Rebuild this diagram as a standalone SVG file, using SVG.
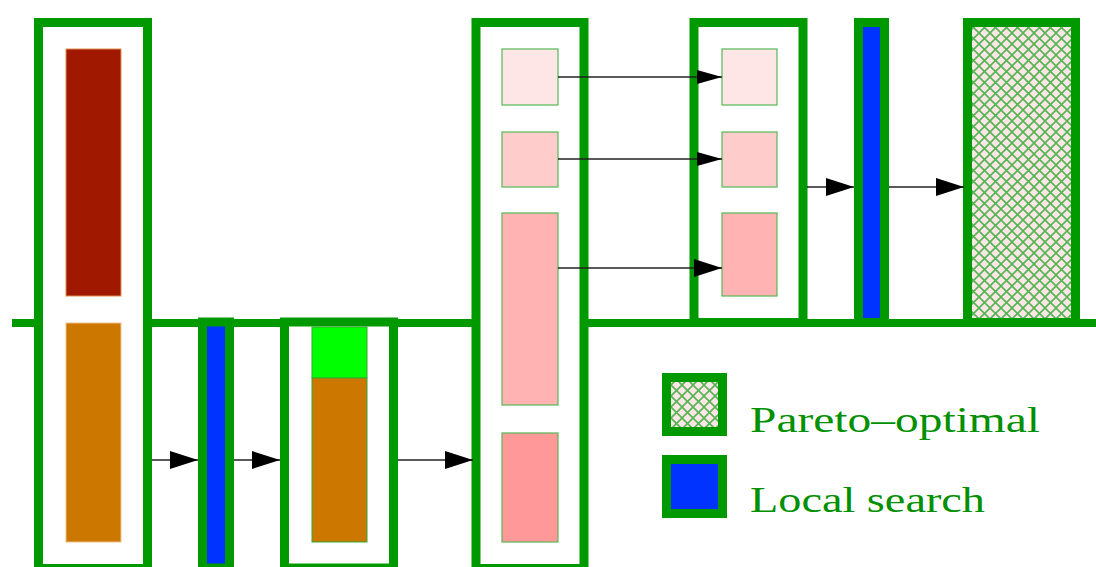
<svg xmlns="http://www.w3.org/2000/svg" width="1096" height="567" viewBox="0 0 1096 567">
<style>
.box{fill:#fff;stroke:#009900;stroke-width:9}
.lsbox{fill:#0033ff;stroke:#009900;stroke-width:9}
.hbox{fill:url(#hatch);stroke:#009900;stroke-width:9}
.cell{stroke:#55b855;stroke-width:1.2}
.p1{fill:#ffe6e6}.p2{fill:#ffcccc}.p3{fill:#ffb3b3}.p4{fill:#ff9999}
.edge{stroke:#222;stroke-width:1.3;fill:none}
.lbl{font-family:"Liberation Serif","Times New Roman",serif;font-size:36px;fill:#009000}
</style>
<defs>
<pattern id="hatch" patternUnits="userSpaceOnUse" width="11" height="11">
<rect width="11" height="11" fill="#ffe6e6"/>
<path d="M0,0 L11,11 M11,0 L0,11" stroke="#52b452" stroke-width="1.6"/>
</pattern>
<marker id="big" markerUnits="userSpaceOnUse" markerWidth="28" markerHeight="18" refX="28" refY="9" orient="auto">
<path d="M0,0 L28,9 L0,18 z" fill="#000"/>
</marker>
<marker id="small" markerUnits="userSpaceOnUse" markerWidth="25" markerHeight="14" refX="25" refY="7" orient="auto">
<path d="M0,0 L25,7 L0,14 z" fill="#000"/>
</marker>
</defs>
<rect width="1096" height="567" fill="#fff"/>
<g id="main-line"><rect x="12" y="319" width="1084" height="8" fill="#009900"/></g>
<g id="box-initial">
<rect class="box" x="38.5" y="22.5" width="109" height="546"/>
<rect x="66" y="49" width="55" height="247" fill="#a01800" stroke="#e09050" stroke-width="1"/>
<rect x="66" y="323" width="55" height="219" fill="#cc7700" stroke="#f0c090" stroke-width="1"/>
</g>
<g id="box-ls1"><rect class="lsbox" x="202.5" y="322" width="27" height="246"/></g>
<g id="box-extended">
<rect class="box" x="284.5" y="322" width="109" height="246"/>
<rect x="312" y="327" width="55" height="51" fill="#00ff00" stroke="#33aa33" stroke-width="1"/>
<rect x="312" y="378" width="55" height="164" fill="#cc7700" stroke="#33aa33" stroke-width="1"/>
</g>
<g id="box-split">
<rect class="box" x="476" y="22.5" width="108" height="546"/>
<rect class="cell p1" x="502" y="49" width="56" height="56"/>
<rect class="cell p2" x="502" y="132" width="56" height="55"/>
<rect class="cell p3" x="502" y="213" width="56" height="192"/>
<rect class="cell p4" x="502" y="433" width="56" height="109"/>
</g>
<g id="box-selected">
<rect class="box" x="694" y="22.5" width="109" height="300"/>
<rect class="cell p1" x="722" y="49" width="55" height="56"/>
<rect class="cell p2" x="722" y="132" width="55" height="55"/>
<rect class="cell p3" x="722" y="213" width="55" height="83"/>
</g>
<g id="box-ls2"><rect class="lsbox" x="858.5" y="22.5" width="26" height="300"/></g>
<g id="box-pareto"><rect class="hbox" x="967.5" y="22.5" width="108" height="300"/></g>
<g id="connectors">
<line class="edge" x1="152" y1="460" x2="198" y2="460" marker-end="url(#big)"/>
<line class="edge" x1="234" y1="460" x2="280" y2="460" marker-end="url(#big)"/>
<line class="edge" x1="398" y1="460" x2="473" y2="460" marker-end="url(#big)"/>
<line class="edge" x1="558" y1="77" x2="722" y2="77" marker-end="url(#small)"/>
<line class="edge" x1="558" y1="159" x2="722" y2="159" marker-end="url(#small)"/>
<line class="edge" x1="558" y1="268" x2="722" y2="268" marker-end="url(#big)"/>
<line class="edge" x1="807" y1="187" x2="854" y2="187" marker-end="url(#big)"/>
<line class="edge" x1="889" y1="187" x2="964" y2="187" marker-end="url(#big)"/>
</g>
<g id="legend">
<rect class="hbox" x="666.5" y="377.5" width="56" height="54"/>
<rect class="lsbox" x="666.5" y="459.5" width="56" height="54"/>
<text class="lbl" x="750" y="432" textLength="290" lengthAdjust="spacingAndGlyphs">Pareto–optimal</text>
<text class="lbl" x="750" y="512" textLength="235" lengthAdjust="spacingAndGlyphs">Local search</text>
</g>
</svg>
